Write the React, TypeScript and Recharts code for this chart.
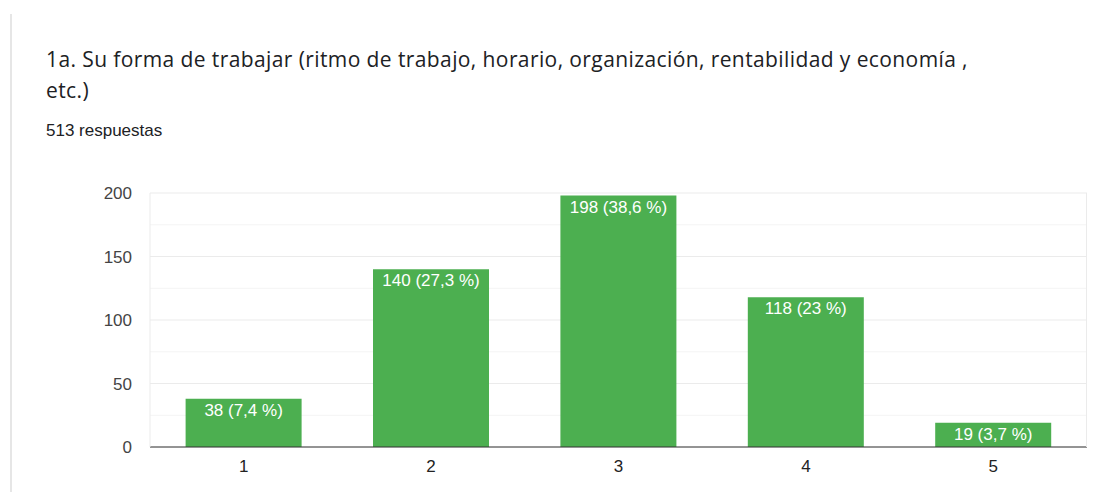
import React from 'react';
import { BarChart, Bar, XAxis, YAxis, CartesianGrid, LabelList } from 'recharts';

const categories = ['1', '2', '3', '4', '5'];
const counts = [38, 140, 198, 118, 19];
const percents = ['7,4', '27,3', '38,6', '23', '3,7'];
const yTicks = [0, 50, 100, 150, 200];
const minorTicks = [25, 75, 125, 175];

const data = categories.map((c, i) => ({
  name: c,
  value: counts[i],
  label: `${counts[i]} (${percents[i]} %)`,
}));

const chartFont = '"Liberation Sans", Arial, sans-serif';

export default function App() {
  return (
    <div
      style={{
        position: 'absolute',
        left: 0,
        top: 0,
        width: 1094,
        height: 492,
        background: '#fff',
        overflow: 'hidden',
        fontFamily: chartFont,
      }}
    >
      {/* borde izquierdo de la tarjeta */}
      <div style={{ position: 'absolute', left: 10, top: 14, width: 2, height: 480, background: '#e6e6e6' }} />

      <div
        style={{
          position: 'absolute',
          left: 46,
          top: 44,
          fontFamily: '"Open Sans", Roboto, sans-serif',
          fontSize: 21,
          letterSpacing: 0.4,
          lineHeight: '31px',
          color: '#202124',
          whiteSpace: 'nowrap',
        }}
      >
        1a. Su forma de trabajar (ritmo de trabajo, horario, organización, rentabilidad y economía ,
        <br />
        etc.)
      </div>
      <div style={{ position: 'absolute', left: 46, top: 121, fontSize: 17, color: '#202124' }}>
        513 respuestas
      </div>

      <div style={{ position: 'absolute', left: 0, top: 0 }}>
        <BarChart
          width={1094}
          height={492}
          data={data}
          margin={{ top: 193, right: 7, bottom: 15, left: 90 }}
          barCategoryGap="19%"
        >
          <CartesianGrid horizontalValues={minorTicks} vertical={false} stroke="#f4f4f4" strokeWidth={1} />
          <CartesianGrid horizontalValues={yTicks} vertical={false} stroke="#ebebeb" strokeWidth={1} />
          <XAxis
            dataKey="name"
            axisLine={{ stroke: '#333', strokeWidth: 1 }}
            tickLine={false}
            height={30}
            tickMargin={7}
            tick={{ fill: '#222', fontSize: 17, fontFamily: chartFont }}
          />
          <YAxis
            domain={[0, 200]}
            ticks={yTicks}
            width={60}
            axisLine={{ stroke: '#ebebeb' }}
            tickLine={false}
            tickMargin={12}
            tick={{ fill: '#444', fontSize: 17, fontFamily: chartFont }}
          />
          <Bar dataKey="value" fill="#4caf50" isAnimationActive={false}>
            <LabelList
              dataKey="label"
              position="insideTop"
              offset={5}
              fill="#ffffff"
              fontSize={17}
              fontFamily={chartFont}
            />
          </Bar>
        </BarChart>
      </div>
      {/* borde derecho del área del gráfico */}
      <div style={{ position: 'absolute', left: 1086, top: 193, width: 1, height: 254, background: '#ebebeb' }} />
    </div>
  );
}
